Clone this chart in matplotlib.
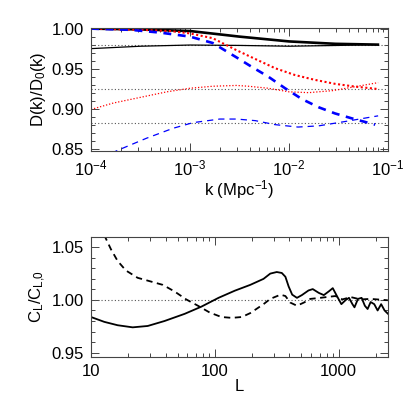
import matplotlib
matplotlib.use("Agg")
import matplotlib.pyplot as plt
from matplotlib.ticker import LogLocator, MultipleLocator, FixedLocator, NullFormatter

plt.rcParams['font.family'] = ['Liberation Sans', 'DejaVu Sans']
plt.rcParams['mathtext.fontset'] = 'custom'
plt.rcParams['mathtext.rm'] = 'Liberation Sans'
plt.rcParams['mathtext.it'] = 'Liberation Sans'
plt.rcParams['mathtext.bf'] = 'Liberation Sans'
plt.rcParams['font.size'] = 12

# ---------------- top panel data: D(k)/D0(k) ----------------
k_thick_black = [1e-4, 10**-3.5, 1e-3, 10**-2.5, 1e-2, 10**-1.53, 0.079]
d_thick_black = [1.0010, 1.0000, 0.9980, 0.9910, 0.9850, 0.9820, 0.9810]

k_thin_black = [1e-4, 10**-3.5, 1e-3, 10**-2.5, 1e-2, 10**-1.5, 0.079]
d_thin_black = [0.9760, 0.9790, 0.9805, 0.9800, 0.9790, 0.9800, 0.9810]

k_thick_blue = [1e-4, 10**-3.6, 10**-3.3, 1e-3, 10**-2.77, 10**-2.53, 10**-2.38,
                10**-2.21, 10**-2.04, 10**-1.87, 10**-1.70, 10**-1.535, 10**-1.37, 10**-1.13]
d_thick_blue = [1.0010, 0.9995, 0.9960, 0.9910, 0.9830, 0.9650, 0.9535,
                0.9410, 0.9265, 0.9130, 0.9027, 0.8950, 0.8890, 0.8810]

k_thin_blue = [1e-4, 10**-3.71, 10**-3.44, 10**-3.17, 10**-2.97, 10**-2.70, 10**-2.53,
               10**-2.34, 10**-2.14, 10**-1.91, 10**-1.70, 10**-1.43, 10**-1.10]
d_thin_blue = [0.8340, 0.8500, 0.8640, 0.8765, 0.8835, 0.8880, 0.8880,
               0.8860, 0.8810, 0.8780, 0.8795, 0.8850, 0.8920]

k_thick_red = [1e-4, 10**-3.5, 10**-3.2, 1e-3, 10**-2.77, 10**-2.53, 10**-2.34, 10**-2.14,
               10**-1.94, 10**-1.74, 10**-1.535, 10**-1.33, 10**-1.10]
d_thick_red = [1.0010, 0.9995, 0.9980, 0.9950, 0.9890, 0.9740, 0.9630, 0.9515,
               0.9430, 0.9370, 0.9320, 0.9285, 0.9255]

k_thin_red = [1e-4, 10**-3.775, 10**-3.505, 10**-3.235, 1e-3, 10**-2.77, 10**-2.53, 10**-2.41,
              10**-2.21, 1e-2, 10**-1.8, 10**-1.56, 10**-1.33, 10**-1.10]
d_thin_red = [0.9000, 0.9080, 0.9150, 0.9220, 0.9265, 0.9290, 0.9300, 0.9290,
              0.9265, 0.9220, 0.9210, 0.9235, 0.9285, 0.9335]

ref_levels_top = [0.980, 0.926, 0.8835]

# ---------------- bottom panel data: C_L/C_L0 ----------------
L_solid = [10, 12.8, 16.4, 21.7, 28.7, 39.2, 57, 77.7, 107, 145, 193, 247, 280, 316, 347,
           371, 394, 421, 460, 504, 570, 617, 690, 758, 833, 895, 967, 1050, 1140, 1210,
           1290, 1340, 1430, 1530, 1625, 1710, 1810, 1935, 2060, 2200, 2345, 2490]
c_solid = [0.9838, 0.9792, 0.9760, 0.9740, 0.9753, 0.9800, 0.9868, 0.9936, 1.0020,
           1.0088, 1.0143, 1.0200, 1.0250, 1.0265, 1.0256, 1.0220, 1.0128, 1.0050,
           1.0020, 1.0046, 1.0090, 1.0103, 1.0067, 1.0046, 1.0082, 1.0112, 1.0037,
           0.9960, 1.0000, 1.0020, 0.9960, 0.9930, 1.0010, 1.0020, 0.9945, 0.9914,
           0.9980, 0.9960, 0.9900, 0.9960, 0.9900, 0.9870]

L_dashed = [10, 11.5, 12.9, 14.5, 16.4, 19.1, 23.8, 30.6, 38, 47.3, 58.7, 73, 91, 113,
            137, 165, 193, 247, 280, 339, 371, 406, 460, 523, 590, 710, 833, 940, 1070,
            1250, 1500, 1810, 2490]
c_dashed = [1.0900, 1.0720, 1.0606, 1.0480, 1.0370, 1.0280, 1.0210, 1.0174, 1.0143,
            1.0080, 1.0005, 0.9945, 0.9880, 0.9838, 0.9830, 0.9838, 0.9875, 0.9960,
            1.0010, 1.0050, 1.0037, 0.9975, 0.9945, 0.9975, 1.0010, 1.0020, 1.0030,
            1.0037, 1.0005, 1.0027, 1.0005, 1.0010, 0.9997]

ref_level_bottom = 1.0

fig = plt.figure(figsize=(4.15, 4.15), dpi=100)
ax1 = fig.add_axes([0.2193, 0.636, 0.7157, 0.296])
ax2 = fig.add_axes([0.2193, 0.1386, 0.7157, 0.291])

dot_color = '#555555'
for lv in ref_levels_top:
    ax1.axhline(lv, color=dot_color, lw=0.8, ls=(0, (1, 2)))
ax1.plot(k_thin_black, d_thin_black, color='black', lw=0.9)
ax1.plot(k_thick_black, d_thick_black, color='black', lw=1.9)
ax1.plot(k_thin_red, d_thin_red, color='red', lw=0.9, ls=(0, (1, 1.5)))
ax1.plot(k_thick_red, d_thick_red, color='red', lw=1.5, ls=(0, (1, 1.2)))
ax1.plot(k_thin_blue, d_thin_blue, color='blue', lw=0.9, ls=(0, (5, 4)))
ax1.plot(k_thick_blue, d_thick_blue, color='blue', lw=1.9, ls=(0, (3, 2.5)))

ax1.set_xscale('log')
ax1.set_xlim(1e-4, 1e-1)
ax1.set_ylim(0.848, 1.0015)
ax1.set_yticks([0.85, 0.90, 0.95, 1.00])
ax1.set_yticklabels(['0.85', '0.90', '0.95', '1.00'])
ax1.yaxis.set_minor_locator(MultipleLocator(0.01))
ax1.xaxis.set_major_locator(FixedLocator([1e-4, 1e-3, 1e-2, 1e-1]))
ax1.set_xticklabels([r'10$^{-4}$', r'10$^{-3}$', r'10$^{-2}$', r'10$^{-1}$'])
ax1.xaxis.set_minor_locator(LogLocator(base=10, subs=range(2, 10)))
ax1.xaxis.set_minor_formatter(NullFormatter())
ax1.set_xlabel(r'k (Mpc$^{-1}$)', labelpad=0)
ax1.set_ylabel(r'D(k)/D$_0$(k)', labelpad=3)

ax2.axhline(ref_level_bottom, color=dot_color, lw=0.8, ls=(0, (1, 2)))
ax2.plot(L_solid, c_solid, color='black', lw=1.3)
ax2.plot(L_dashed, c_dashed, color='black', lw=1.3, ls=(0, (3.5, 2.5)))
ax2.set_xscale('log')
ax2.set_xlim(10, 2500)
ax2.set_ylim(0.9454, 1.060)
ax2.set_yticks([0.95, 1.00, 1.05])
ax2.set_yticklabels(['0.95', '1.00', '1.05'])
ax2.yaxis.set_minor_locator(MultipleLocator(0.01))
ax2.xaxis.set_major_locator(FixedLocator([10, 100, 1000]))
ax2.set_xticklabels(['10', '100', '1000'])
ax2.xaxis.set_minor_locator(LogLocator(base=10, subs=range(2, 10)))
ax2.xaxis.set_minor_formatter(NullFormatter())
ax2.set_xlabel('L', labelpad=0)
ax2.set_ylabel(r'C$_\mathregular{L}$/C$_\mathregular{L,\!\!0}$', labelpad=3)

for ax in (ax1, ax2):
    ax.tick_params(which='both', direction='in', top=True, right=True,
                   color='#444444', width=0.7)
    ax.tick_params(which='major', length=6, labelsize=12, pad=5)
    ax.tick_params(which='minor', length=3)
    for s in ax.spines.values():
        s.set_linewidth(0.8)
        s.set_color('#444444')

fig.savefig('out.png', dpi=100)
